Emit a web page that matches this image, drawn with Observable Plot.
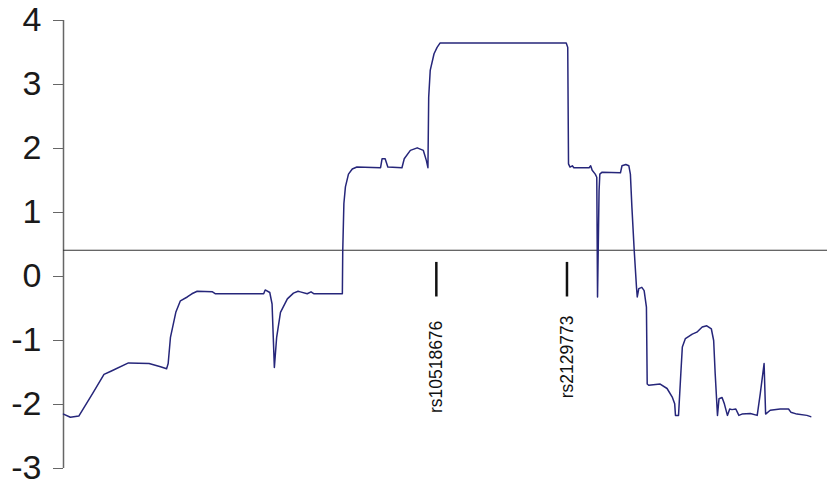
<!DOCTYPE html>
<html>
<head>
<meta charset="utf-8">
<script src="https://cdn.jsdelivr.net/npm/d3@7"></script>
<script src="https://cdn.jsdelivr.net/npm/@observablehq/plot@0.6"></script>
<style>
  html, body { margin: 0; padding: 0; background: #fff; }
  #chart svg { display: block; }
</style>
</head>
<body>
<div id="chart"></div>
<script>
// Relative position along the region (0–100) and the traced score
const positions = [
  0.0, 0.9, 2.0, 3.8, 5.3, 6.2, 8.5, 11.2, 12.7, 13.5, 13.7, 14.0, 14.7, 15.3, 16.2, 16.8, 17.5,
  19.5, 19.9, 26.2, 26.4, 27.0, 27.3, 27.6, 27.9, 28.4, 29.3, 30.1, 30.7, 31.0, 31.9, 32.4, 32.8,
  36.5, 36.55, 36.7, 36.9, 37.3, 37.8, 38.4, 41.5, 41.7, 42.1, 42.45, 44.3, 44.6, 45.4, 46.3, 47.1,
  47.5, 47.7, 47.8, 48.0, 48.5, 48.9, 49.3, 65.8, 66.0, 66.1, 66.3, 66.6, 66.8, 68.8, 69.0, 69.2,
  69.6, 69.8, 69.9, 70.1, 70.2, 70.5, 72.9, 73.1, 73.6, 74.0, 74.2, 74.4, 74.7, 75.0, 75.1, 75.3,
  75.7, 76.0, 76.3, 76.4, 76.6, 78.1, 79.0, 79.7, 80.0, 80.1, 80.5, 80.8, 81.0, 81.4, 82.3, 82.9,
  83.6, 84.2, 84.8, 85.1, 85.3, 85.6, 85.8, 86.2, 86.5, 86.9, 87.2, 87.5, 88.0, 88.4, 88.8, 89.9,
  90.8, 91.2, 91.7, 91.9, 92.5, 93.8, 94.9, 95.2, 96.0, 97.3, 97.8
];
const scores = [
  -2.15, -2.2, -2.18, -1.83, -1.53, -1.48, -1.35, -1.36, -1.41, -1.44, -1.36, -0.95, -0.56, -0.38, -0.32, -0.27, -0.23,
  -0.24, -0.27, -0.27, -0.21, -0.25, -0.43, -1.42, -0.95, -0.56, -0.35, -0.26, -0.23, -0.24, -0.27, -0.24, -0.27,
  -0.27, 0.4, 1.14, 1.40, 1.60, 1.68, 1.71, 1.70, 1.84, 1.84, 1.71, 1.70, 1.84, 1.97, 2.01, 1.97,
  1.81, 1.70, 2.80, 3.22, 3.48, 3.58, 3.65, 3.65, 3.58, 1.76, 1.71, 1.73, 1.70, 1.70, 1.73, 1.66,
  1.60, 1.55, -0.32, 1.34, 1.60, 1.63, 1.62, 1.73, 1.75, 1.73, 1.60, 1.08, 0.41, -0.17, -0.32, -0.19,
  -0.17, -0.22, -0.48, -1.68, -1.70, -1.68, -1.75, -1.89, -1.99, -2.17, -2.17, -1.52, -1.10, -0.97, -0.90, -0.87,
  -0.79, -0.77, -0.82, -1.0, -1.52, -2.17, -1.91, -1.89, -1.99, -2.17, -2.07, -2.08, -2.07, -2.17, -2.15, -2.14,
  -2.17, -1.83, -1.36, -2.15, -2.09, -2.07, -2.07, -2.12, -2.15, -2.17, -2.19
];

// Significance threshold
const threshold = 0.41;

// Marker SNPs
const markerNames = ["rs10518676", "rs2129773"];
const markerPositions = [48.8, 65.9];
const markerLabelY = [-0.69, -0.61];

// Y axis ticks
const yTicks = [-3, -2, -1, 0, 1, 2, 3, 4];

const series = positions.map((p, i) => ({pos: p, score: scores[i]}));
const markers = markerNames.map((name, i) => ({name, pos: markerPositions[i], labelY: markerLabelY[i]}));

const chart = Plot.plot({
  width: 827,
  height: 487,
  marginTop: 20,
  marginBottom: 19,
  marginLeft: 63,
  marginRight: 0,
  style: {fontFamily: "'Liberation Sans', Arial, sans-serif", background: "#fff", overflow: "visible"},
  x: {domain: [0, 100], axis: null},
  y: {domain: [-3, 4]},
  marks: [
    Plot.axisY({
      ticks: yTicks,
      tickFormat: d => String(d),
      tickSize: 10,
      tickPadding: 12,
      fontSize: 34,
      stroke: "#666",
      color: "#1a1a1a",
      label: null
    }),
    Plot.ruleX([0], {stroke: "#666", strokeWidth: 1.5}),
    Plot.ruleY([threshold], {stroke: "#333", strokeWidth: 1.2}),
    Plot.line(series, {x: "pos", y: "score", stroke: "#26267a", strokeWidth: 1.5}),
    Plot.ruleX(markers, {x: "pos", y1: 0.22, y2: -0.32, stroke: "#111", strokeWidth: 2.5}),
    Plot.text(markers, {
      x: "pos",
      y: "labelY",
      text: "name",
      rotate: -90,
      textAnchor: "end",
      fontSize: 17.5,
      fill: "#111"
    })
  ]
});

document.getElementById("chart").appendChild(chart);
</script>
</body>
</html>
